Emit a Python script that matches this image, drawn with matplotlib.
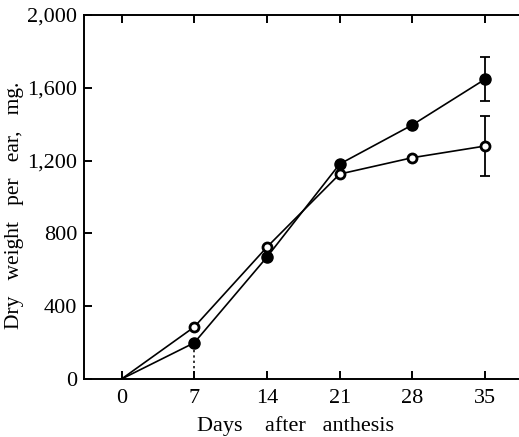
import numpy as np
import matplotlib.pyplot as plt
from matplotlib.ticker import FuncFormatter

plt.rcParams['font.family'] = ['Liberation Serif', 'DejaVu Serif']

days = [0, 7, 14, 21, 28, 35]
dry_filled = [0, 199, 670, 1181, 1396, 1647]
dry_open = [0, 286, 725, 1126, 1216, 1280]
err_filled = 122
err_open = 165

fig = plt.figure(figsize=(5.19, 4.37), dpi=100)
ax = fig.add_axes([0.162, 0.1327, 0.855, 0.833])

ax.plot(days, dry_filled, color='black', lw=1.2, marker='o', ms=8,
        mfc='black', mec='black', markevery=range(1, 6), zorder=3)
ax.plot(days, dry_open, color='black', lw=1.2, marker='o', ms=6.5,
        mfc='white', mec='black', mew=2, markevery=range(1, 6), zorder=3)

# spread at the last harvest
ax.errorbar([35], [dry_filled[-1]], yerr=err_filled, fmt='none',
            ecolor='black', elinewidth=1.3, capsize=3.5, capthick=1.3)
ax.errorbar([35], [dry_open[-1]], yerr=err_open, fmt='none',
            ecolor='black', elinewidth=1.3, capsize=3.5, capthick=1.3)

ax.plot([7, 7], [0, dry_filled[1]], color='black', lw=1.1, ls=(0, (1.5, 2)))

ax.set_xlim(-3.61, 39.12)
ax.set_ylim(0, 2000)
ax.set_xticks(days)
ax.set_yticks([0, 400, 800, 1200, 1600, 2000])
ax.yaxis.set_major_formatter(FuncFormatter(lambda v, p: f'{int(v):,}'))
ax.tick_params(direction='in', length=6, width=1.4, top=True, right=True,
               labelsize=16, pad=5)
ax.tick_params(axis='x', pad=7.5)
for s in ax.spines.values():
    s.set_linewidth(1.4)

fig.text(0.569, 0.013, 'Days    after   anthesis', fontsize=16,
         ha='center', va='baseline')
fig.text(0.027, 0.529, 'Dry   weight   per   ear,   mg.', fontsize=15.5,
         ha='center', va='center', rotation=90)

fig.savefig('out.png', dpi=100)
